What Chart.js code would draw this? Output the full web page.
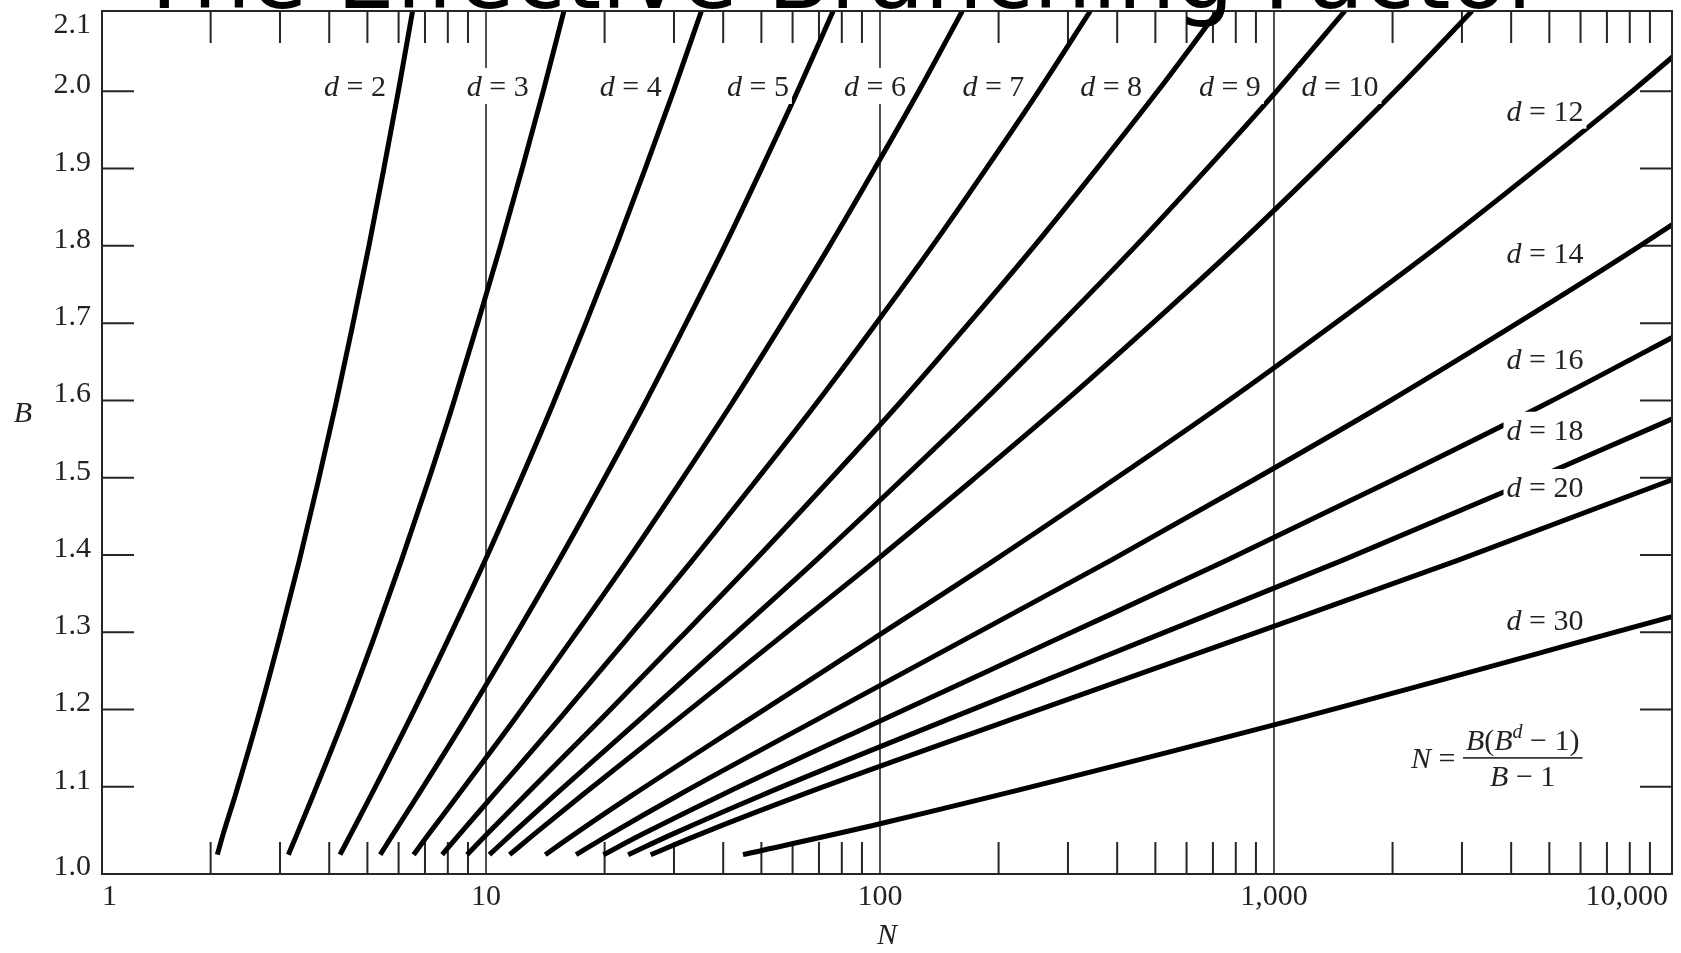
<!DOCTYPE html>
<html>
<head>
<meta charset="utf-8">
<title>The Effective Branching Factor</title>
<script src="https://cdn.jsdelivr.net/npm/chart.js@4.4.0/dist/chart.umd.min.js"></script>
<style>
  html, body { margin: 0; padding: 0; background: #fff; }
  #wrap { width: 1681px; height: 953px; position: relative; }
</style>
</head>
<body>
<div id="wrap"><canvas id="effChart"></canvas></div>
<script>
// branching factor B at which the depth curves are sampled
var bLevels = [1.012, 1.038, 1.089, 1.190, 1.292, 1.393, 1.495, 1.596, 1.698, 1.799, 1.901, 2.002, 2.104];

// N along each depth curve, one entry per bLevels value (curves that leave the plot stop early)
var nD2  = [2.08, 2.15, 2.31, 2.64, 2.99, 3.36, 3.75, 4.16, 4.59, 5.04, 5.51, 6.0, 6.51];
var nD3  = [3.15, 3.31, 3.64, 4.37, 5.19, 6.10, 7.13, 8.26, 9.50, 10.87, 12.37, 14.0, 15.77];
var nD4  = [4.26, 4.53, 5.11, 6.44, 8.04, 9.95, 12.19, 14.81, 17.86, 21.37, 25.40, 30.0, 35.22];
var nD5  = [5.39, 5.80, 6.72, 8.93, 11.76, 15.32, 19.78, 25.30, 32.05, 40.27, 50.16, 62.0, 76.06];
var nD6  = [6.55, 7.14, 8.49, 11.92, 16.58, 22.85, 31.17, 42.07, 56.19, 74.28, 97.21, 126, 161.8];
var nD7  = [7.74, 8.55, 10.44, 15.50, 22.86, 33.40, 48.26, 68.92, 97.23, 135.5, 186.6, 254, 341.9];
var nD8  = [8.95, 10.03, 12.58, 19.80, 31.02, 48.15, 73.89, 111.9, 167.0, 245.7, 356.4, 510, 720.2];
var nD9  = [10.2, 11.58, 14.94, 24.96, 41.62, 68.81, 112.3, 180.6, 285.6, 444.1, 679.1, 1022, 1514];
var nD10 = [11.48, 13.21, 17.53, 31.15, 55.41, 97.74, 170.0, 290.5, 487.2, 801.1, 1292, 2046, 3182];
var nD12 = [14.14, 16.71, 23.52, 47.50, 96.63, 194.9, 386.2, 747.9, 1412, 2601, 4670, 8190, 14041];
var nD14 = [16.93, 20.58, 30.77, 71.04, 166.3, 385.4, 872.8, 1919, 4087, 8431, 16866];
var nD16 = [19.87, 24.84, 39.55, 104.9, 284.0, 758.8, 1968, 4917, 11815];
var nD18 = [22.95, 29.54, 50.16, 153.7, 483.0, 1491, 4431, 12590];
var nD20 = [26.18, 34.72, 63.0, 224.0, 819.2, 2925, 9973, 32235];

// the d = 30 curve is sampled on its own
var bD30 = [1.012, 1.052, 1.180, 1.320];
var nD30 = [44.9, 100, 1000, 10240];

var depthSeries = [
  { d: '2', n: nD2 }, { d: '3', n: nD3 }, { d: '4', n: nD4 }, { d: '5', n: nD5 },
  { d: '6', n: nD6 }, { d: '7', n: nD7 }, { d: '8', n: nD8 }, { d: '9', n: nD9 },
  { d: '10', n: nD10 }, { d: '12', n: nD12 }, { d: '14', n: nD14 }, { d: '16', n: nD16 },
  { d: '18', n: nD18 }, { d: '20', n: nD20 }, { d: '30', n: nD30, b: bD30 }
];

// axis ticks
var xTickValues = [1, 10, 100, 1000, 10000];
var xTickLabels = ['1', '10', '100', '1,000', '10,000'];
var xGridValues = [10, 100, 1000];
var xMinorTicks = [2, 3, 4, 5, 6, 7, 8, 9, 20, 30, 40, 50, 60, 70, 80, 90,
                   200, 300, 400, 500, 600, 700, 800, 900, 2000, 3000, 4000, 5000, 6000, 7000, 8000, 9000];
var yTickValues = [1.0, 1.1, 1.2, 1.3, 1.4, 1.5, 1.6, 1.7, 1.8, 1.9, 2.0, 2.1];
var yTickLabels = ['1.0', '1.1', '1.2', '1.3', '1.4', '1.5', '1.6', '1.7', '1.8', '1.9', '2.0', '2.1'];

// curve labels, anchored at (N, B)
var curveLabels = [
  { d: '2', n: 4.65, b: 2.007 }, { d: '3', n: 10.71, b: 2.007 }, { d: '4', n: 23.3, b: 2.007 },
  { d: '5', n: 49.0, b: 2.007 }, { d: '6', n: 97.1, b: 2.007 }, { d: '7', n: 194, b: 2.007 },
  { d: '8', n: 386, b: 2.007 }, { d: '9', n: 773, b: 2.007 }, { d: '10', n: 1471, b: 2.007 },
  { d: '12', n: 4874, b: 1.975 }, { d: '14', n: 4874, b: 1.791 }, { d: '16', n: 4874, b: 1.653 },
  { d: '18', n: 4874, b: 1.562 }, { d: '20', n: 4874, b: 1.488 }, { d: '30', n: 4874, b: 1.316 }
];
var formulaAnchor = { n: 3660, b: 1.137 };

var chartTitle = 'The Effective Branching Factor';
var SERIF = '"Liberation Serif", "Times New Roman", serif';

function runFont(r) {
  return (r.italic ? 'italic ' : '') + (r.sup ? 20 : 30) + 'px ' + SERIF;
}
function runsWidth(ctx, runs) {
  var w = 0;
  runs.forEach(function (r) { ctx.font = runFont(r); w += ctx.measureText(r.t).width; });
  return w;
}
function drawRuns(ctx, runs, x, baseY) {
  runs.forEach(function (r) {
    ctx.font = runFont(r);
    ctx.fillText(r.t, x, baseY - (r.sup ? 12 : 0));
    x += ctx.measureText(r.t).width;
  });
}

var decorations = {
  id: 'decorations',
  beforeDatasetsDraw: function (chart) {
    var ctx = chart.ctx, a = chart.chartArea, xs = chart.scales.x, ys = chart.scales.y;
    ctx.save();
    ctx.strokeStyle = '#262626';

    // full-height lines at the decades
    ctx.lineWidth = 1.6;
    ctx.beginPath();
    xGridValues.forEach(function (v) {
      var px = xs.getPixelForValue(v);
      ctx.moveTo(px, a.top); ctx.lineTo(px, a.bottom);
    });
    ctx.stroke();

    // inward tick marks on all four sides
    ctx.lineWidth = 2;
    ctx.beginPath();
    xMinorTicks.forEach(function (v) {
      var px = xs.getPixelForValue(v);
      ctx.moveTo(px, a.bottom); ctx.lineTo(px, a.bottom - 32);
      ctx.moveTo(px, a.top); ctx.lineTo(px, a.top + 32);
    });
    yTickValues.slice(1, -1).forEach(function (v) {
      var py = ys.getPixelForValue(v);
      ctx.moveTo(a.left, py); ctx.lineTo(a.left + 32, py);
      ctx.moveTo(a.right, py); ctx.lineTo(a.right - 32, py);
    });
    ctx.stroke();
    ctx.restore();
  },
  afterDatasetsDraw: function (chart) {
    var ctx = chart.ctx, a = chart.chartArea, xs = chart.scales.x, ys = chart.scales.y;
    ctx.save();
    ctx.textBaseline = 'alphabetic';
    ctx.textAlign = 'left';

    // curve labels on white patches
    curveLabels.forEach(function (lab) {
      var runs = [{ t: 'd', italic: true }, { t: ' = ' + lab.d }];
      var w = runsWidth(ctx, runs);
      var cx = xs.getPixelForValue(lab.n), cy = ys.getPixelForValue(lab.b);
      ctx.fillStyle = '#fff';
      ctx.fillRect(cx - w / 2 - 3, cy - 18, w + 6, 36);
      ctx.fillStyle = '#222';
      drawRuns(ctx, runs, cx - w / 2, cy + 10);
    });

    // N = B(B^d - 1) / (B - 1)
    var fx = xs.getPixelForValue(formulaAnchor.n), fy = ys.getPixelForValue(formulaAnchor.b);
    var num = [{ t: 'B', italic: true }, { t: '(' }, { t: 'B', italic: true }, { t: 'd', italic: true, sup: true }, { t: ' \u2212 1)' }];
    var den = [{ t: 'B', italic: true }, { t: ' \u2212 1' }];
    var lhs = [{ t: 'N', italic: true }, { t: ' = ' }];
    var numW = runsWidth(ctx, num), denW = runsWidth(ctx, den), lhsW = runsWidth(ctx, lhs);
    var barL = fx - 33, barW = numW + 6;
    ctx.fillStyle = '#222';
    drawRuns(ctx, lhs, barL - lhsW, fy + 10);
    drawRuns(ctx, num, barL + (barW - numW) / 2, fy - 8);
    drawRuns(ctx, den, barL + (barW - denW) / 2, fy + 28);
    ctx.fillRect(barL, fy - 1, barW, 1.6);

    // frame
    ctx.strokeStyle = '#262626';
    ctx.lineWidth = 2;
    ctx.strokeRect(a.left, a.top, a.right - a.left, a.bottom - a.top);

    // y tick labels: end labels sit inside the frame, others rest on their tick
    ctx.font = '30px ' + SERIF;
    ctx.textAlign = 'right';
    ctx.fillStyle = '#222';
    yTickValues.forEach(function (v, i) {
      var base = ys.getPixelForValue(v) + 2;
      if (i === 0) base = a.bottom + 1;
      if (i === yTickValues.length - 1) base = a.top + 22;
      ctx.fillText(yTickLabels[i], a.left - 11, base);
    });

    // axis titles
    ctx.font = 'italic 30px ' + SERIF;
    ctx.textAlign = 'center';
    ctx.fillText('N', (a.left + a.right) / 2, a.bottom + 70);
    ctx.fillText('B', 23, 422);
    ctx.restore();
  },
  afterDraw: function (chart) {
    var ctx = chart.ctx;
    ctx.save();
    ctx.font = '92px "DejaVu Sans", sans-serif';
    ctx.textAlign = 'center';
    ctx.textBaseline = 'alphabetic';
    ctx.fillStyle = '#000';
    ctx.fillText(chartTitle, chart.width / 2, 8);
    ctx.restore();
  }
};

new Chart(document.getElementById('effChart').getContext('2d'), {
  type: 'line',
  data: {
    datasets: depthSeries.map(function (s) {
      var bs = s.b || bLevels;
      return {
        label: 'd = ' + s.d,
        data: s.n.map(function (n, i) { return { x: n, y: bs[i] }; }),
        borderColor: '#000',
        borderWidth: 5,
        pointRadius: 0,
        fill: false,
        cubicInterpolationMode: 'monotone',
        clip: 0
      };
    })
  },
  options: {
    responsive: true,
    maintainAspectRatio: false,
    animation: false,
    layout: { padding: { left: 102, right: 9, top: 11, bottom: 33 } },
    plugins: {
      legend: { display: false },
      tooltip: { enabled: false }
    },
    scales: {
      x: {
        type: 'logarithmic',
        min: 1.06,
        max: 10240,
        // the first label is pinned to the left edge of the frame
        afterBuildTicks: function (axis) {
          axis.ticks = xTickValues.map(function (v) { return { value: Math.max(v, axis.min) }; });
        },
        grid: { display: false, drawTicks: false },
        border: { display: false },
        ticks: {
          autoSkip: false,
          maxRotation: 0,
          align: 'inner',
          padding: 5,
          color: '#222',
          font: { family: SERIF, size: 30 },
          callback: function (value, index) {
            return xTickLabels[index];
          }
        }
      },
      y: {
        type: 'linear',
        min: 0.987,
        max: 2.104,
        display: false
      }
    }
  },
  plugins: [decorations]
});
</script>
</body>
</html>
